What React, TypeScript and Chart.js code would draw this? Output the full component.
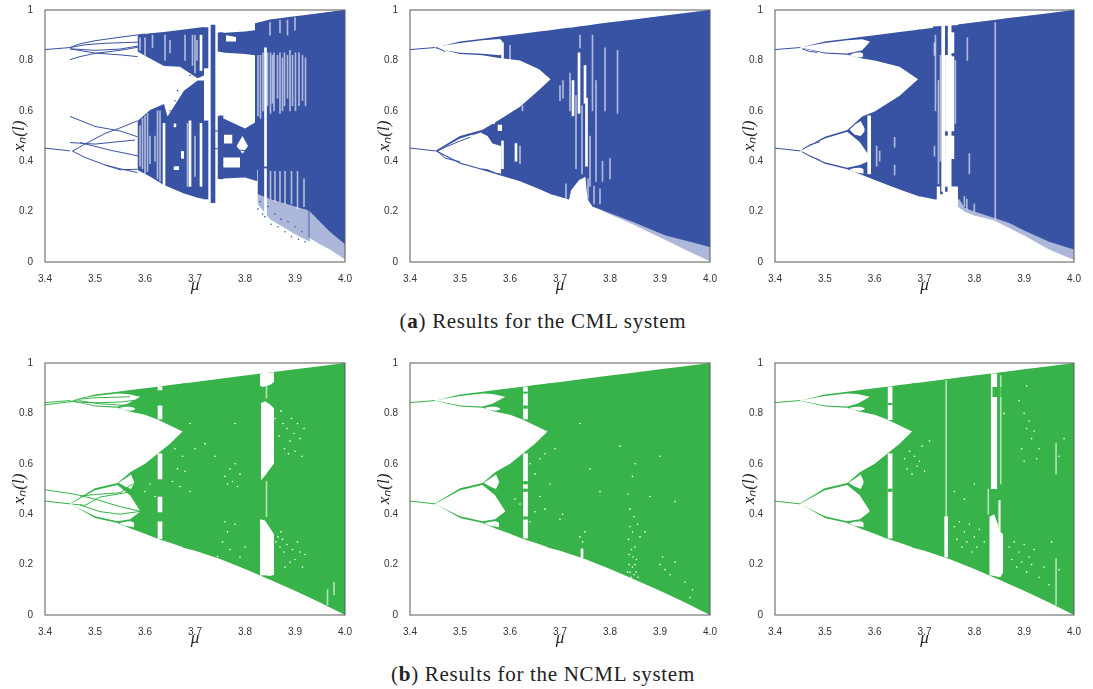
import React, { useEffect, useRef } from "react";
import { Chart, registerables } from "chart.js";
Chart.register(...registerables);

type Band = [number[], number[], number[]];
type Line = [number[], number[]];
type Gap = [number, number, number];
type Dot = [number, number];

const BLUE = "#3953a4";
const GREEN = "#37b34a";
const WHITE = "#ffffff";
const SOFT = "rgba(255,255,255,0.6)";
const DUST = "rgba(57,83,164,0.42)";

const xTicks = [3.4, 3.5, 3.6, 3.7, 3.8, 3.9, 4.0];
const yTicks = [0, 0.2, 0.4, 0.6, 0.8, 1];

// ---- shared lead-in branches
const leadTop: Line = [[3.4, 3.45], [0.843, 0.851]];
const leadLow: Line = [[3.4, 3.45], [0.452, 0.441]];

// ---- green base (NCML)
const gMu = [3.45, 3.5, 3.545, 3.571, 3.6, 3.625, 3.65, 3.675, 3.68];
const gTop: Band = [gMu, [0.85, 0.827, 0.822, 0.807, 0.795, 0.776, 0.752, 0.728, 0.728], [0.85, 0.875, 0.886, 0.893, 0.9, 0.906, 0.9125, 0.919, 0.92]];
const gLow: Band = [gMu, [0.442, 0.385, 0.365, 0.343, 0.322, 0.303, 0.287, 0.27, 0.267], [0.442, 0.503, 0.524, 0.567, 0.6, 0.64, 0.68, 0.728, 0.728]];
const gMain: Band = [[3.675, 3.7, 3.75, 3.8, 3.85, 3.9, 3.95, 4.0], [0.268, 0.255, 0.222, 0.183, 0.14, 0.096, 0.05, 0], [0.919, 0.925, 0.9375, 0.95, 0.9625, 0.975, 0.9875, 1]];
const lensA: Band = [[3.452, 3.5, 3.545, 3.565, 3.59], [0.85, 0.831, 0.827, 0.838, 0.865], [0.852, 0.869, 0.879, 0.877, 0.866]];
const lensB: Band = [[3.55, 3.56, 3.572, 3.58], [0.82, 0.813, 0.811, 0.815], [0.822, 0.826, 0.826, 0.82]];
const lensC: Band = [[3.45, 3.5, 3.545, 3.57, 3.59], [0.44, 0.392, 0.372, 0.38, 0.41], [0.44, 0.495, 0.516, 0.475, 0.414]];
const lensD: Band = [[3.55, 3.56, 3.572, 3.578], [0.362, 0.354, 0.35, 0.348], [0.365, 0.37, 0.372, 0.366]];
const lensE: Band = [[3.548, 3.56, 3.572, 3.578], [0.524, 0.51, 0.5, 0.525], [0.526, 0.541, 0.558, 0.53]];

// ---- panel d (NCML left)
const dExtraTop: Line[] = [
  [[3.4, 3.45, 3.47], [0.834, 0.846, 0.85]],
  [[3.45, 3.47, 3.5, 3.57], [0.846, 0.857, 0.862, 0.866]],
  [[3.46, 3.5, 3.55, 3.58], [0.845, 0.842, 0.845, 0.852]],
  [[3.47, 3.51, 3.56, 3.58], [0.85, 0.838, 0.832, 0.835]],
];
const dExtraLow: Line[] = [
  [[3.4, 3.46, 3.5, 3.55, 3.59], [0.497, 0.479, 0.46, 0.43, 0.412]],
  [[3.47, 3.5, 3.55, 3.575], [0.472, 0.478, 0.485, 0.52]],
  [[3.455, 3.48, 3.51, 3.57], [0.44, 0.435, 0.468, 0.488]],
  [[3.47, 3.51, 3.55, 3.59], [0.437, 0.41, 0.4, 0.411]],
];
const dGapsWide: Gap[] = [[3.63, 0.893, 0.906], [3.63, 0.778, 0.83], [3.63, 0.54, 0.64], [3.63, 0.409, 0.468], [3.63, 0.303, 0.37]];
const dBlobA: Band = [[3.83, 3.835, 3.85, 3.858], [0.91, 0.905, 0.913, 0.925], [0.955, 0.96, 0.962, 0.962]];
const dBlobB: Band = [[3.832, 3.84, 3.85, 3.858], [0.535, 0.553, 0.58, 0.6], [0.84, 0.848, 0.835, 0.82]];
const dBlobC: Band = [[3.83, 3.84, 3.85, 3.858], [0.157, 0.158, 0.155, 0.16], [0.38, 0.375, 0.345, 0.32]];
const dThinGaps: Gap[] = [[3.965, 0.04, 0.1], [3.978, 0.08, 0.13], [3.843, 0.86, 0.91], [3.843, 0.39, 0.53]];
const dDots: Dot[] = [
  [3.86, 0.78], [3.868, 0.71], [3.872, 0.81], [3.879, 0.66], [3.884, 0.74], [3.89, 0.69], [3.893, 0.78], [3.898, 0.72], [3.9, 0.65], [3.905, 0.76],
  [3.91, 0.7], [3.914, 0.63], [3.918, 0.74], [3.876, 0.76], [3.887, 0.64], [3.862, 0.29], [3.866, 0.31], [3.87, 0.27], [3.875, 0.3], [3.878, 0.25],
  [3.884, 0.28], [3.89, 0.21], [3.895, 0.26], [3.9, 0.22], [3.905, 0.29], [3.91, 0.25], [3.915, 0.19], [3.92, 0.24], [3.872, 0.33], [3.88, 0.19],
  [3.76, 0.55], [3.765, 0.52], [3.77, 0.58], [3.775, 0.53], [3.78, 0.6], [3.785, 0.51], [3.79, 0.56], [3.66, 0.66], [3.655, 0.53], [3.665, 0.58],
  [3.67, 0.51], [3.675, 0.63], [3.68, 0.57], [3.69, 0.49], [3.7, 0.66], [3.72, 0.68], [3.74, 0.63], [3.76, 0.37], [3.765, 0.33], [3.755, 0.29],
  [3.77, 0.26], [3.78, 0.36], [3.79, 0.23], [3.8, 0.27], [3.61, 0.52], [3.6, 0.49], [3.62, 0.47], [3.69, 0.76], [3.78, 0.76], [3.745, 0.232],
];

// ---- panel e (NCML middle)
const eGapsWide: Gap[] = [[3.631, 0.778, 0.905], [3.631, 0.305, 0.64]];
const eFleck: Gap[] = [[3.631, 0.52, 0.53], [3.631, 0.49, 0.5], [3.631, 0.38, 0.39], [3.631, 0.82, 0.83], [3.631, 0.88, 0.885]];
const eThin: Gap[] = [[3.744, 0.228, 0.262]];
const eDots: Dot[] = [
  [3.84, 0.17], [3.842, 0.15], [3.845, 0.19], [3.848, 0.16], [3.85, 0.2], [3.852, 0.17], [3.838, 0.2], [3.846, 0.23], [3.843, 0.26], [3.85, 0.27],
  [3.837, 0.3], [3.84, 0.35], [3.845, 0.33], [3.855, 0.36], [3.848, 0.39], [3.84, 0.42], [3.836, 0.48], [3.845, 0.55], [3.85, 0.6], [3.838, 0.24],
  [3.853, 0.22], [3.835, 0.17], [3.856, 0.15], [3.86, 0.31], [3.87, 0.33], [3.9, 0.2], [3.905, 0.23], [3.91, 0.18], [3.92, 0.16], [3.93, 0.21],
  [3.95, 0.13], [3.96, 0.07], [3.965, 0.1], [3.64, 0.6], [3.65, 0.56], [3.66, 0.62], [3.67, 0.64], [3.68, 0.52], [3.69, 0.66], [3.66, 0.47],
  [3.65, 0.41], [3.64, 0.37], [3.67, 0.42], [3.7, 0.38], [3.705, 0.4], [3.74, 0.31], [3.745, 0.29], [3.75, 0.33], [3.74, 0.76], [3.76, 0.58],
  [3.78, 0.49], [3.88, 0.47], [3.9, 0.63], [3.93, 0.45], [3.82, 0.67], [3.61, 0.46], [3.62, 0.44],
];

// ---- panel f (NCML right)
const fGapsWide: Gap[] = [[3.631, 0.775, 0.905], [3.631, 0.305, 0.64]];
const fFleck: Gap[] = [[3.631, 0.835, 0.84], [3.631, 0.49, 0.5]];
const fHair: Gap[] = [[3.7435, 0.39, 0.93], [3.964, 0.04, 0.224], [3.964, 0.56, 0.68], [3.853, 0.52, 0.95], [3.828, 0.4, 0.5]];
const fMid: Gap[] = [[3.7435, 0.23, 0.39]];
const fBlock: Band = [[3.83, 3.84, 3.852, 3.858], [0.158, 0.155, 0.15, 0.17], [0.39, 0.4, 0.33, 0.32]];
const fColA: Band = [[3.833, 3.846], [0.5, 0.5], [0.958, 0.958]];
const fColB: Band = [[3.848, 3.853], [0.33, 0.33], [0.455, 0.455]];
const fPatch: Band = [[3.836, 3.848], [0.865, 0.865], [0.905, 0.905]];
const fPatchB: Band = [[3.852, 3.858], [0.865, 0.865], [0.905, 0.905]];
const fDots: Dot[] = [
  [3.76, 0.35], [3.765, 0.3], [3.77, 0.37], [3.775, 0.27], [3.78, 0.33], [3.785, 0.29], [3.79, 0.36], [3.795, 0.25], [3.8, 0.31], [3.805, 0.27],
  [3.81, 0.34], [3.82, 0.29], [3.87, 0.27], [3.875, 0.22], [3.88, 0.29], [3.885, 0.19], [3.89, 0.25], [3.895, 0.21], [3.9, 0.28], [3.905, 0.17],
  [3.91, 0.23], [3.915, 0.2], [3.92, 0.26], [3.93, 0.15], [3.94, 0.19], [3.95, 0.12], [3.66, 0.62], [3.665, 0.58], [3.67, 0.65], [3.675, 0.56],
  [3.68, 0.63], [3.685, 0.59], [3.69, 0.61], [3.695, 0.67], [3.7, 0.57], [3.71, 0.69], [3.9, 0.8], [3.905, 0.74], [3.91, 0.77], [3.915, 0.7],
  [3.92, 0.73], [3.895, 0.66], [3.9, 0.61], [3.925, 0.62], [3.93, 0.66], [3.905, 0.91], [3.89, 0.85], [3.86, 0.8], [3.76, 0.49], [3.78, 0.46],
  [3.8, 0.52], [3.97, 0.63], [3.98, 0.7], [3.97, 0.18], [3.955, 0.29],
];

// ---- panel c (CML right)
const cMu = [3.45, 3.5, 3.545, 3.575, 3.6, 3.65, 3.687, 3.692];
const cTop: Band = [cMu, [0.85, 0.827, 0.822, 0.808, 0.8, 0.775, 0.725, 0.725], [0.85, 0.875, 0.886, 0.894, 0.9, 0.9125, 0.922, 0.923]];
const cLow: Band = [cMu, [0.44, 0.39, 0.368, 0.345, 0.325, 0.288, 0.262, 0.26], [0.44, 0.497, 0.524, 0.577, 0.597, 0.66, 0.725, 0.725]];
const cMain: Band = [[3.687, 3.722], [0.262, 0.248], [0.922, 0.931]];
const cCore: Band = [[3.717, 3.77], [0.3, 0.3], [0.935, 0.94]];
const cRightMu = [3.767, 3.78, 3.8, 3.84, 3.87, 3.9, 3.95, 4.0];
const cRightHi = [0.942, 0.945, 0.95, 0.96, 0.968, 0.975, 0.9875, 1];
const cRight: Band = [cRightMu, [0.26, 0.215, 0.2, 0.175, 0.155, 0.125, 0.08, 0.05], cRightHi];
const cDust: Band = [cRightMu, [0.22, 0.2, 0.185, 0.165, 0.135, 0.105, 0.05, 0.008], cRightHi];
const cLensTop: Band = [[3.452, 3.5, 3.545, 3.575, 3.59], [0.85, 0.831, 0.827, 0.84, 0.873], [0.852, 0.869, 0.88, 0.884, 0.875]];
const cLensB: Band = [[3.55, 3.56, 3.572, 3.577], [0.82, 0.814, 0.812, 0.815], [0.822, 0.83, 0.832, 0.826]];
const cLensC: Band = [[3.45, 3.5, 3.545, 3.57, 3.593], [0.44, 0.396, 0.374, 0.385, 0.405], [0.44, 0.49, 0.517, 0.476, 0.41]];
const cLensD: Band = [[3.55, 3.56, 3.572, 3.578], [0.365, 0.356, 0.352, 0.35], [0.368, 0.373, 0.374, 0.368]];
const cLensE: Band = [[3.55, 3.56, 3.572, 3.58], [0.524, 0.505, 0.5, 0.52], [0.526, 0.545, 0.56, 0.53]];
const cInner: Line[] = [
  [[3.455, 3.47, 3.485], [0.845, 0.835, 0.832]],
  [[3.455, 3.47, 3.49], [0.447, 0.465, 0.477]],
  [[3.455, 3.47, 3.49], [0.437, 0.42, 0.404]],
];
const cGapsWide: Gap[] = [[3.7375, 0.28, 0.94], [3.7505, 0.28, 0.94], [3.756, 0.83, 0.91], [3.756, 0.52, 0.815], [3.756, 0.41, 0.5], [3.589, 0.35, 0.58], [3.745, 0.52, 0.82], [3.745, 0.3, 0.5]];
const cThin: Gap[] = [[3.842, 0.17, 0.95], [3.728, 0.31, 0.72], [3.722, 0.6, 0.9], [3.64, 0.455, 0.495], [3.64, 0.345, 0.385], [3.72, 0.82, 0.87], [3.72, 0.42, 0.46], [3.732, 0.4, 0.82], [3.762, 0.55, 0.8], [3.604, 0.38, 0.46], [3.786, 0.8, 0.89], [3.79, 0.35, 0.43], [3.61, 0.4, 0.44], [3.78, 0.22, 0.26], [3.785, 0.21, 0.25], [3.8, 0.2, 0.23]];
const cBlueCols: Gap[] = [[3.722, 0.25, 0.3], [3.734, 0.27, 0.3], [3.744, 0.28, 0.3], [3.77, 0.25, 0.3]];

// ---- panel b (CML middle)
const bMu = [3.45, 3.5, 3.545, 3.578, 3.62, 3.658, 3.681, 3.686];
const bTop: Band = [bMu, [0.85, 0.825, 0.82, 0.81, 0.8, 0.765, 0.725, 0.725], [0.85, 0.875, 0.886, 0.895, 0.905, 0.915, 0.92, 0.921]];
const bLow: Band = [bMu, [0.44, 0.39, 0.365, 0.345, 0.32, 0.29, 0.27, 0.267], [0.44, 0.5, 0.525, 0.563, 0.616, 0.683, 0.725, 0.725]];
const bRightMu = [3.681, 3.698, 3.718, 3.722, 3.738, 3.751, 3.755, 3.765, 3.778, 3.798, 3.845, 3.911, 3.96, 4.0];
const bRightHi = [0.92, 0.925, 0.93, 0.93, 0.935, 0.9375, 0.9385, 0.941, 0.945, 0.95, 0.961, 0.978, 0.99, 1];
const bRight: Band = [bRightMu, [0.27, 0.26, 0.248, 0.285, 0.325, 0.338, 0.25, 0.22, 0.21, 0.195, 0.16, 0.105, 0.08, 0.06], bRightHi];
const bDust: Band = [bRightMu, [0.27, 0.26, 0.248, 0.285, 0.325, 0.338, 0.25, 0.22, 0.21, 0.19, 0.15, 0.087, 0.04, 0.003], bRightHi];
const bLensTop: Band = [[3.455, 3.5, 3.545, 3.58, 3.585], [0.845, 0.83, 0.826, 0.82, 0.83], [0.855, 0.869, 0.88, 0.885, 0.875]];
const bLensLow: Band = [[3.455, 3.5, 3.54, 3.555, 3.565, 3.582], [0.44, 0.395, 0.372, 0.368, 0.36, 0.35], [0.44, 0.49, 0.515, 0.5, 0.47, 0.46]];
const bHoleA: Band = [[3.575, 3.584], [0.52, 0.52], [0.545, 0.545]];
const bHoleB: Band = [[3.56, 3.57], [0.548, 0.548], [0.56, 0.56]];
const bHoleC: Band = [[3.57, 3.582], [0.355, 0.352], [0.365, 0.365]];
const bInner: Line[] = [
  [[3.455, 3.47, 3.5, 3.52], [0.44, 0.455, 0.48, 0.495]],
  [[3.455, 3.47, 3.5], [0.44, 0.412, 0.398]],
  [[3.452, 3.46, 3.47], [0.85, 0.845, 0.835]],
  [[3.525, 3.54], [0.505, 0.515]],
];
const bGapsWide: Gap[] = [[3.738, 0.59, 0.83], [3.726, 0.58, 0.72], [3.753, 0.38, 0.65], [3.75, 0.63, 0.78], [3.585, 0.37, 0.48], [3.585, 0.79, 0.87], [3.612, 0.4, 0.47]];
const bThin: Gap[] = [
  [3.72, 0.6, 0.75], [3.732, 0.37, 0.66], [3.744, 0.35, 0.62], [3.76, 0.3, 0.5], [3.765, 0.6, 0.9], [3.772, 0.32, 0.72], [3.78, 0.23, 0.29], [3.79, 0.6, 0.85], [3.785, 0.32, 0.4], [3.8, 0.33, 0.41],
  [3.815, 0.59, 0.84], [3.6, 0.79, 0.86], [3.62, 0.39, 0.46], [3.625, 0.6, 0.62], [3.7, 0.64, 0.7], [3.712, 0.25, 0.31], [3.756, 0.25, 0.33], [3.768, 0.23, 0.3], [3.74, 0.85, 0.9], [3.706, 0.65, 0.72],
];

// ---- panel a (CML left)
const aTop: Band = [[3.585, 3.61, 3.638, 3.67, 3.705, 3.718], [0.835, 0.808, 0.778, 0.775, 0.729, 0.74], [0.9, 0.908, 0.913, 0.921, 0.93, 0.933]];
const aMid: Band = [[3.585, 3.61, 3.638, 3.645, 3.678, 3.705, 3.718], [0.365, 0.339, 0.305, 0.3, 0.272, 0.255, 0.25], [0.56, 0.603, 0.627, 0.577, 0.68, 0.72, 0.72]];
const aTopIsland: Band = [[3.745, 3.76, 3.8, 3.82], [0.835, 0.83, 0.825, 0.82], [0.91, 0.91, 0.915, 0.92]];
const aLowIsland: Band = [[3.745, 3.8, 3.825], [0.33, 0.335, 0.32], [0.58, 0.53, 0.56]];
const aHoleA: Band = [[3.758, 3.775], [0.47, 0.47], [0.505, 0.505]];
const aHoleB: Band = [[3.783, 3.795, 3.806], [0.46, 0.43, 0.46], [0.46, 0.5, 0.46]];
const aHoleC: Band = [[3.755, 3.79], [0.375, 0.375], [0.415, 0.415]];
const aHoleD: Band = [[3.762, 3.782], [0.875, 0.875], [0.9, 0.893]];
const aHoleE: Band = [[3.657, 3.663], [0.535, 0.535], [0.55, 0.55]];
const aHoleF: Band = [[3.672, 3.678], [0.41, 0.41], [0.44, 0.44]];
const aHoleG: Band = [[3.657, 3.668], [0.365, 0.365], [0.38, 0.38]];
const aRightTop: Band = [[3.82, 3.85, 3.9, 3.95, 4.0], [0.835, 0.835, 0.835, 0.835, 0.835], [0.947, 0.9625, 0.975, 0.9875, 1]];
const aRightMid: Band = [[3.82, 3.93], [0.565, 0.57], [0.85, 0.85]];
const aRightCore: Band = [[3.82, 3.93], [0.365, 0.365], [0.59, 0.59]];
const aRightLow: Band = [[3.825, 3.85, 3.9, 3.935], [0.27, 0.25, 0.22, 0.2], [0.375, 0.375, 0.375, 0.375]];
const aRightDust: Band = [[3.825, 3.85, 3.9, 3.93], [0.23, 0.17, 0.11, 0.08], [0.275, 0.255, 0.225, 0.205]];
const aFull: Band = [[3.925, 3.95, 3.97, 4.0], [0.21, 0.16, 0.12, 0.07], [0.98, 0.9875, 0.992, 1]];
const aFullDust: Band = [[3.925, 3.95, 3.97, 4.0], [0.1, 0.07, 0.05, 0.01], [0.215, 0.165, 0.125, 0.075]];
const aLines: Line[] = [
  [[3.45, 3.47, 3.5, 3.55, 3.6], [0.851, 0.866, 0.878, 0.892, 0.905]],
  [[3.45, 3.48, 3.52, 3.58, 3.61], [0.851, 0.862, 0.868, 0.872, 0.875]],
  [[3.45, 3.5, 3.55, 3.58, 3.61], [0.846, 0.84, 0.845, 0.855, 0.86]],
  [[3.45, 3.47, 3.5, 3.55, 3.585], [0.803, 0.815, 0.828, 0.84, 0.852]],
  [[3.45, 3.5, 3.55, 3.585], [0.846, 0.829, 0.822, 0.815]],
  [[3.455, 3.48, 3.52, 3.55, 3.585], [0.44, 0.468, 0.51, 0.532, 0.56]],
  [[3.455, 3.48, 3.52, 3.55, 3.585], [0.44, 0.415, 0.385, 0.37, 0.355]],
  [[3.45, 3.5, 3.55, 3.585], [0.578, 0.538, 0.52, 0.497]],
  [[3.45, 3.5, 3.58], [0.474, 0.468, 0.484]],
  [[3.47, 3.53, 3.61], [0.474, 0.444, 0.411]],
  [[3.52, 3.55, 3.585], [0.385, 0.366, 0.368]],
  [[3.74, 3.82], [0.52, 0.52]],
  [[3.74, 3.82], [0.45, 0.44]],
];
const aBlueCols: Gap[] = [[3.722, 0.25, 0.56], [3.722, 0.77, 0.93], [3.736, 0.235, 0.94], [3.752, 0.33, 0.58], [3.752, 0.84, 0.91]];
const aWhiteWide: Gap[] = [[3.841, 0.38, 0.85], [3.841, 0.18, 0.37], [3.638, 0.3, 0.55], [3.69, 0.3, 0.56], [3.712, 0.3, 0.55], [3.712, 0.76, 0.9]];
const aWhiteThin: Gap[] = [
  [3.826, 0.58, 0.82], [3.831, 0.57, 0.82], [3.836, 0.6, 0.83], [3.851, 0.59, 0.83], [3.858, 0.6, 0.83], [3.87, 0.59, 0.83], [3.879, 0.62, 0.83], [3.89, 0.6, 0.84], [3.901, 0.6, 0.83], [3.915, 0.64, 0.82],
  [3.921, 0.62, 0.81], [3.865, 0.65, 0.82], [3.885, 0.65, 0.82], [3.845, 0.62, 0.83], [3.855, 0.63, 0.82], [3.875, 0.6, 0.81], [3.895, 0.62, 0.82], [3.908, 0.62, 0.83], [3.851, 0.25, 0.36], [3.86, 0.24, 0.36],
  [3.87, 0.24, 0.36], [3.88, 0.23, 0.36], [3.893, 0.23, 0.36], [3.905, 0.21, 0.36], [3.918, 0.22, 0.33], [3.85, 0.9, 0.95], [3.87, 0.91, 0.96], [3.885, 0.9, 0.96], [3.9, 0.92, 0.97], [3.615, 0.85, 0.9],
  [3.62, 0.4, 0.5], [3.65, 0.83, 0.88], [3.68, 0.8, 0.9], [3.7, 0.34, 0.5], [3.704, 0.8, 0.88], [3.59, 0.38, 0.54], [3.595, 0.37, 0.57], [3.6, 0.35, 0.58], [3.605, 0.36, 0.59], [3.59, 0.84, 0.89],
  [3.6, 0.82, 0.89], [3.61, 0.39, 0.5], [3.625, 0.33, 0.6], [3.63, 0.32, 0.6], [3.64, 0.8, 0.9], [3.695, 0.78, 0.9], [3.7, 0.75, 0.9], [3.685, 0.3, 0.55],
];
const aBlueDots: Dot[] = [
  [3.84, 0.18], [3.846, 0.22], [3.852, 0.15], [3.86, 0.19], [3.866, 0.14], [3.872, 0.17], [3.88, 0.12], [3.886, 0.16], [3.893, 0.1], [3.9, 0.14],
  [3.907, 0.09], [3.914, 0.12], [3.92, 0.08], [3.826, 0.21], [3.83, 0.24], [3.835, 0.19], [3.65, 0.6], [3.66, 0.64], [3.655, 0.58], [3.668, 0.62], [3.675, 0.66], [3.665, 0.68], [3.69, 0.74],
];

type Layer =
  | { kind: "band"; band: Band; color: string }
  | { kind: "line"; line: Line; color: string }
  | { kind: "gaps"; gaps: Gap[]; width: number; color: string }
  | { kind: "dots"; dots: Dot[]; color: string };

const fill = (color: string, ...bands: Band[]): Layer[] => bands.map((band) => ({ kind: "band", band, color }));
const lines = (color: string, ...ls: Line[]): Layer[] => ls.map((line) => ({ kind: "line", line, color }));
const gaps = (color: string, width: number, g: Gap[]): Layer => ({ kind: "gaps", gaps: g, width, color });
const dots = (color: string, d: Dot[]): Layer => ({ kind: "dots", dots: d, color });

const greenBase: Layer[] = [
  ...fill(GREEN, gTop, gLow, gMain),
  ...fill(WHITE, lensA, lensB, lensC, lensD, lensE),
  ...lines(GREEN, leadTop, leadLow),
];

const panelA: Layer[] = [
  ...fill(DUST, aRightDust, aFullDust),
  ...fill(BLUE, aTop, aMid, aTopIsland, aLowIsland, aRightTop, aRightMid, aRightCore, aRightLow, aFull),
  ...fill(WHITE, aHoleA, aHoleB, aHoleC, aHoleD, aHoleE, aHoleF, aHoleG),
  ...lines(BLUE, leadTop, leadLow, ...aLines),
  gaps(BLUE, 4, aBlueCols),
  gaps(WHITE, 2, aWhiteWide),
  gaps(SOFT, 1, aWhiteThin),
  dots(BLUE, aBlueDots),
];
const panelB: Layer[] = [
  ...fill(DUST, bDust),
  ...fill(BLUE, bTop, bLow, bRight),
  ...fill(WHITE, bLensTop, bLensLow, bHoleA, bHoleB, bHoleC),
  ...lines(BLUE, leadTop, leadLow, ...bInner),
  gaps(WHITE, 2, bGapsWide),
  gaps(SOFT, 1, bThin),
];
const panelC: Layer[] = [
  ...fill(DUST, cDust),
  ...fill(BLUE, cTop, cLow, cMain, cCore, cRight),
  ...fill(WHITE, cLensTop, cLensB, cLensC, cLensD, cLensE),
  ...lines(BLUE, leadTop, leadLow, ...cInner),
  gaps(BLUE, 2, cBlueCols),
  gaps(WHITE, 3, cGapsWide),
  gaps(SOFT, 1, cThin),
];
const panelD: Layer[] = [
  ...greenBase,
  ...lines(GREEN, ...dExtraTop, ...dExtraLow),
  gaps(WHITE, 4, dGapsWide),
  ...fill(WHITE, dBlobA, dBlobB, dBlobC),
  gaps(SOFT, 1, dThinGaps),
  dots(WHITE, dDots),
];
const panelE: Layer[] = [...greenBase, gaps(WHITE, 4, eGapsWide), gaps(GREEN, 4, eFleck), gaps(WHITE, 2, eThin), dots(WHITE, eDots)];
const panelF: Layer[] = [
  ...greenBase,
  gaps(WHITE, 4, fGapsWide),
  gaps(GREEN, 4, fFleck),
  gaps(WHITE, 3, fMid),
  gaps(SOFT, 1, fHair),
  ...fill(WHITE, fBlock, fColA, fColB),
  ...fill(GREEN, fPatch, fPatchB),
  dots(WHITE, fDots),
];

const pts = (xs: number[], ys: number[]) => xs.map((x, i) => ({ x, y: ys[i] }));

function toDatasets(layers: Layer[]) {
  const out: any[] = [];
  layers.forEach((l) => {
    if (l.kind === "band") {
      const [m, lo, hi] = l.band;
      out.push({ type: "line", data: pts(m, lo), borderWidth: 0, pointRadius: 0, tension: 0, fill: "+1", backgroundColor: l.color });
      out.push({ type: "line", data: pts(m, hi), borderWidth: 0, pointRadius: 0, tension: 0, fill: false });
    } else if (l.kind === "line") {
      out.push({ type: "line", data: pts(l.line[0], l.line[1]), borderColor: l.color, borderWidth: 1, pointRadius: 0, tension: 0, fill: false });
    } else if (l.kind === "gaps") {
      out.push({ type: "bar", grouped: false, barThickness: l.width, backgroundColor: l.color, borderWidth: 0, data: l.gaps.map(([x, lo, hi]) => ({ x, y: [lo, hi] })) });
    } else {
      out.push({ type: "scatter", showLine: false, pointRadius: 0.8, pointBorderWidth: 0, pointBackgroundColor: l.color, data: l.dots.map(([x, y]) => ({ x, y })) });
    }
  });
  const n = out.length;
  out.forEach((d, i) => (d.order = n - i));
  return out;
}

const frame = {
  id: "frame",
  afterDraw(chart: any) {
    const { ctx, chartArea: a } = chart;
    ctx.save();
    ctx.strokeStyle = "#595959";
    ctx.lineWidth = 1;
    ctx.strokeRect(a.left, a.top, a.right - a.left, a.bottom - a.top);
    ctx.restore();
  },
};

const PAD_L = 44;
const PAD_T = 10;
const PAD_R = 14;
const PAD_B = 40;

function Panel({ layers, left, top, w, h }: { layers: Layer[]; left: number; top: number; w: number; h: number }) {
  const ref = useRef<HTMLCanvasElement>(null);
  useEffect(() => {
    const chart = new Chart(ref.current!, {
      type: "line",
      data: { datasets: toDatasets(layers) },
      plugins: [frame],
      options: {
        animation: false,
        responsive: false,
        layout: { autoPadding: false, padding: { top: PAD_T, right: PAD_R, left: 0, bottom: 0 } },
        plugins: { legend: { display: false }, tooltip: { enabled: false } },
        scales: {
          x: {
            type: "linear",
            offset: false,
            min: 3.4,
            max: 4.0,
            afterBuildTicks: (s: any) => { s.ticks = xTicks.map((value) => ({ value })); },
            afterFit: (s: any) => { s.height = PAD_B; },
            grid: { display: false },
            border: { display: false },
            ticks: { autoSkip: false, maxRotation: 0, padding: 3, color: "#333", font: { family: "Liberation Sans", size: 10 }, callback: (v: any) => Number(v).toFixed(1) },
            title: { display: true, text: "μ", color: "#222", padding: { top: 0, bottom: 6 }, font: { family: "Liberation Serif", style: "italic", size: 17 } },
          },
          y: {
            type: "linear",
            min: 0,
            max: 1,
            afterBuildTicks: (s: any) => { s.ticks = yTicks.map((value) => ({ value })); },
            afterFit: (s: any) => { s.width = PAD_L; },
            grid: { display: false },
            border: { display: false },
            ticks: { autoSkip: false, padding: 4, color: "#333", font: { family: "Liberation Sans", size: 10 }, callback: (v: any) => String(v) },
            title: { display: true, text: "xₙ(l)", color: "#222", padding: { top: 8, bottom: 0 }, font: { family: "Liberation Serif", style: "italic", size: 17 } },
          },
        },
      } as any,
    });
    return () => chart.destroy();
  }, [layers]);
  return (
    <canvas
      ref={ref}
      width={PAD_L + w + PAD_R}
      height={PAD_T + h + PAD_B}
      style={{ position: "absolute", left: left - PAD_L, top: top - PAD_T, width: PAD_L + w + PAD_R, height: PAD_T + h + PAD_B }}
    />
  );
}

const capStyle = (top: number): React.CSSProperties => ({
  position: "absolute",
  left: 0,
  width: 1086,
  top,
  textAlign: "center",
  fontFamily: "'Liberation Serif', serif",
  fontSize: 21,
  letterSpacing: 0.7,
  lineHeight: "24px",
  color: "#222",
});

export default function App() {
  return (
    <div style={{ position: "absolute", left: 0, top: 0, width: 1093, height: 689, background: "#fff", overflow: "hidden" }}>
      <Panel layers={panelA} left={44.5} top={10} w={300} h={252} />
      <Panel layers={panelB} left={409.5} top={10} w={300} h={252} />
      <Panel layers={panelC} left={775} top={10} w={299} h={252} />
      <Panel layers={panelD} left={44.5} top={362.5} w={300} h={252.5} />
      <Panel layers={panelE} left={409.5} top={362.5} w={300} h={252.5} />
      <Panel layers={panelF} left={775} top={362.5} w={299} h={252.5} />
      <div style={capStyle(309)}>(<b>a</b>) Results for the CML system</div>
      <div style={capStyle(662)}>(<b>b</b>) Results for the NCML system</div>
    </div>
  );
}
